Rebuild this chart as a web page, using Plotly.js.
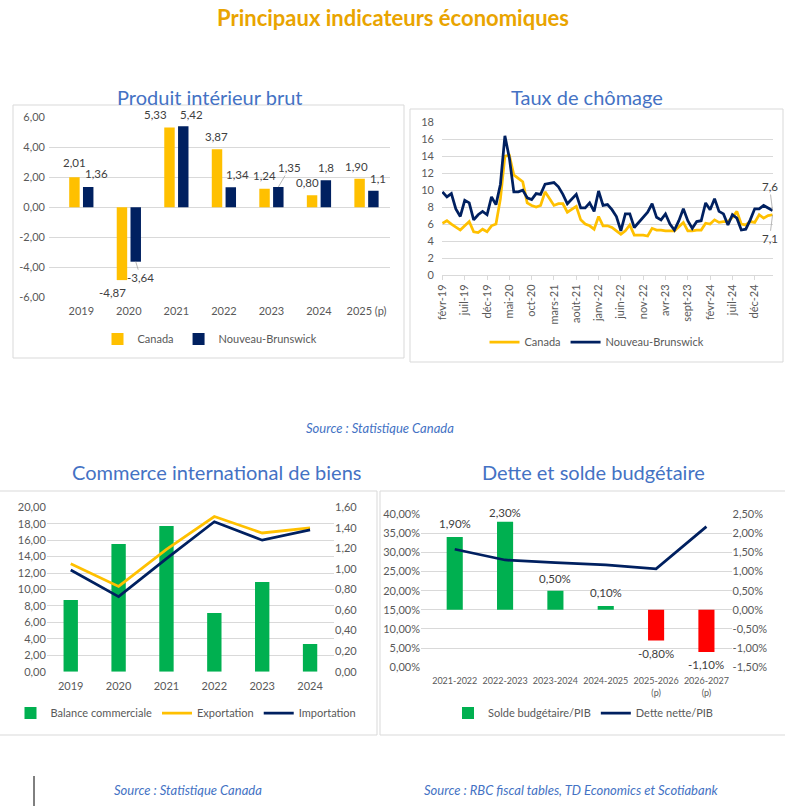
<!DOCTYPE html>
<html>
<head>
<meta charset="utf-8">
<script src="https://cdn.plot.ly/plotly-3.0.1.min.js"></script>
<style>
html,body{margin:0;padding:0;background:#ffffff;}
#chart{width:785px;height:806px;}
</style>
</head>
<body>
<div id="chart"></div>
<script>
// ---------------- DATA ----------------
// Produit intérieur brut
const pibYears = ['2019','2020','2021','2022','2023','2024','2025 (p)'];
const pibCanada = [2.01, -4.87, 5.33, 3.87, 1.24, 0.80, 1.90];
const pibNB = [1.36, -3.64, 5.42, 1.34, 1.35, 1.8, 1.1];
const pibCanadaLabels = ['2,01','-4,87','5,33','3,87','1,24','0,80','1,90'];
const pibNBLabels = ['1,36','-3,64','5,42','1,34','1,35','1,8','1,1'];
const pibTicks = [-6, -4, -2, 0, 2, 4, 6];

// Taux de chômage
const chomMonths = [
 'févr-19','mars-19','avr-19','mai-19','juin-19','juil-19','août-19','sept-19','oct-19','nov-19','déc-19',
 'janv-20','févr-20','mars-20','avr-20','mai-20','juin-20','juil-20','août-20','sept-20','oct-20','nov-20','déc-20',
 'janv-21','févr-21','mars-21','avr-21','mai-21','juin-21','juil-21','août-21','sept-21','oct-21','nov-21','déc-21',
 'janv-22','févr-22','mars-22','avr-22','mai-22','juin-22','juil-22','août-22','sept-22','oct-22','nov-22','déc-22',
 'janv-23','févr-23','mars-23','avr-23','mai-23','juin-23','juil-23','août-23','sept-23','oct-23','nov-23','déc-23',
 'janv-24','févr-24','mars-24','avr-24','mai-24','juin-24','juil-24','août-24','sept-24','oct-24','nov-24','déc-24',
 'janv-25','févr-25','mars-25','avr-25'];
const chomCanada = [6.1,6.4,6.0,5.6,5.3,5.8,6.3,5.1,5.0,5.4,
 5.1,5.8,6.0,9.0,14.0,14.1,11.8,11.4,11.0,8.5,
 8.2,8.0,8.2,9.8,9.0,8.2,8.4,8.4,7.4,7.8,
 8.1,6.5,6.0,5.8,5.4,6.9,5.8,5.8,5.6,5.2,
 4.8,5.2,5.9,4.7,4.7,4.7,4.6,5.5,5.3,5.3,
 5.2,5.2,5.2,5.7,6.2,5.2,5.2,5.3,5.3,6.1,
 6.0,6.5,6.2,6.3,6.3,6.8,7.5,6.0,5.9,6.3,
 6.2,7.1,6.7,7.0,7.1];
const chomNB = [9.8,9.2,9.6,7.8,6.9,8.8,8.5,6.5,7.1,7.5,
 7.1,9.2,8.3,10.7,16.4,13.8,9.8,9.8,10.0,9.1,
 8.9,9.6,9.5,10.7,10.8,10.9,10.4,9.5,8.4,9.0,
 9.5,7.9,7.9,8.5,7.5,9.9,8.2,8.3,7.7,6.9,
 5.2,7.2,7.2,5.6,6.2,6.9,7.4,8.4,6.8,6.5,
 7.2,6.0,5.3,6.4,7.8,6.4,5.5,6.3,6.4,8.5,
 7.7,9.0,7.5,7.2,5.9,7.1,6.7,5.3,5.4,6.5,
 7.8,7.8,8.2,7.9,7.6];
const chomTicks = ['févr-19','juil-19','déc-19','mai-20','oct-20','mars-21','août-21','janv-22',
 'juin-22','nov-22','avr-23','sept-23','févr-24','juil-24','déc-24'];
const chomYTicks = [0,2,4,6,8,10,12,14,16,18];

// Commerce international de biens
const comYears = ['2019','2020','2021','2022','2023','2024'];
const comBalance = [8.72, 15.54, 17.73, 7.14, 10.91, 3.37];
const comExport = [1.05, 0.83, 1.19, 1.51, 1.35, 1.40];
const comImport = [0.99, 0.73, 1.10, 1.46, 1.28, 1.38];
const comLeftTicks = [0,2,4,6,8,10,12,14,16,18,20];
const comRightTicks = [0,0.2,0.4,0.6,0.8,1.0,1.2,1.4,1.6];

// Dette et solde budgétaire
const detteYears = ['2021-2022','2022-2023','2023-2024','2024-2025','2025-2026<br>(p)','2026-2027<br>(p)'];
const detteSolde = [0.019, 0.023, 0.005, 0.001, -0.008, -0.011];
const detteNette = [0.308, 0.280, 0.273, 0.267, 0.257, 0.367];
const detteLeftTicks = [0,0.05,0.10,0.15,0.20,0.25,0.30,0.35,0.40];
const detteRightTicks = [-0.015,-0.010,-0.005,0,0.005,0.010,0.015,0.020,0.025];

// ---------------- STYLE ----------------
const W = 785, H = 806;
const X = (a,b) => [a/W, b/W];
const Y = (t,b) => [1-b/H, 1-t/H];
const fx = a => a/W, fy = b => 1-b/H;
const FONT = 'Lato, "Open Sans", sans-serif';
const GRID = '#D9D9D9', TICK = '#595959', LABEL = '#404040';
const YELLOW = '#FFC000', NAVY = '#002060', GREEN = '#00B050', RED = '#FF0000';
const TBLUE = '#4472C4', GOLD = '#E9A400';
const fr = (v,d) => v.toFixed(d).replace('.', ',');
const pct = v => (v*100).toFixed(2).replace('.', ',') + '%';

// label offsets (px) relative to bar end: [dx from category centre, dy (down +)]
const pibCanadaOff = [[-6.7,-15],[-16,12],[-20.7,-13],[-7.2,-13],[-6.7,-13],[-11,-13],[-9.7,-12]];
const pibNBOff = [[15.3,-13],[11.8,16],[15.3,-12],[13.8,-13],[18.3,-19.5],[6.8,-13],[11.3,-12]];
const pibNBArrow = [false,true,false,false,true,false,false];
const detteOff = [13,9,12,13,-13.5,-13];

// ---------------- TRACES ----------------
const traces = [
  {type:'bar', name:'Canada', x:pibYears, y:pibCanada, xaxis:'x', yaxis:'y',
   marker:{color:YELLOW}, width:0.22, offset:-0.255, legend:'legend'},
  {type:'bar', name:'Nouveau-Brunswick', x:pibYears, y:pibNB, xaxis:'x', yaxis:'y',
   marker:{color:NAVY}, width:0.22, offset:0.035, legend:'legend'},

  {type:'scatter', mode:'lines', name:'Canada', x:chomMonths, y:chomCanada, xaxis:'x2', yaxis:'y2',
   line:{color:YELLOW, width:2.75}, legend:'legend2'},
  {type:'scatter', mode:'lines', name:'Nouveau-Brunswick', x:chomMonths, y:chomNB, xaxis:'x2', yaxis:'y2',
   line:{color:NAVY, width:2.75}, legend:'legend2'},

  {type:'bar', name:'Balance commerciale', x:comYears, y:comBalance, xaxis:'x3', yaxis:'y3',
   marker:{color:GREEN}, width:0.3, legend:'legend3'},
  {type:'scatter', mode:'lines', name:'Exportation', x:comYears, y:comExport, xaxis:'x3', yaxis:'y5',
   line:{color:YELLOW, width:2.75}, legend:'legend3'},
  {type:'scatter', mode:'lines', name:'Importation', x:comYears, y:comImport, xaxis:'x3', yaxis:'y5',
   line:{color:NAVY, width:2.75}, legend:'legend3'},

  {type:'bar', name:'Solde budgétaire/PIB', x:detteYears, y:detteSolde, xaxis:'x4', yaxis:'y4',
   marker:{color:detteSolde.map(v => v >= 0 ? GREEN : RED)}, width:0.32, legend:'legend4'},
  {type:'scatter', mode:'lines', name:'Dette nette/PIB', x:detteYears, y:detteNette, xaxis:'x4', yaxis:'y6',
   line:{color:NAVY, width:2.75}, legend:'legend4'}
];

// ---------------- ANNOTATIONS ----------------
const ann = [];
const txt = (text, x, y, font) => ({
  text, x:fx(x), y:fy(y), xref:'paper', yref:'paper', xanchor:'center', yanchor:'middle',
  showarrow:false, font});
const srcFont = {family:FONT, size:13, color:TBLUE, style:'italic'};
const subFont = {family:FONT, size:20, color:TBLUE};

ann.push(txt('Principaux indicateurs économiques', 393, 17, {family:FONT, size:22, color:GOLD, weight:700}));
ann.push(txt('Produit intérieur brut', 210, 97, subFont));
ann.push(txt('Taux de chômage', 587, 97, subFont));
ann.push(txt('Commerce international de biens', 217, 472, subFont));
ann.push(txt('Dette et solde budgétaire', 593, 472, subFont));
ann.push(txt('Source : Statistique Canada', 380, 428, srcFont));
ann.push(txt('Source : Statistique Canada', 188, 790, srcFont));
ann.push(txt('Source : RBC fiscal tables, TD Economics et Scotiabank', 571, 790, srcFont));

const lblFont = {family:FONT, size:11.5, color:LABEL};
pibYears.forEach((c,i) => {
  // category axes: annotation x given as the category index
  ann.push({x:i, y:pibCanada[i], xref:'x', yref:'y', text:pibCanadaLabels[i], showarrow:false,
    xshift:pibCanadaOff[i][0], yshift:-pibCanadaOff[i][1], font:lblFont});
  if (pibNBArrow[i]) {
    ann.push({x:i, y:pibNB[i], xref:'x', yref:'y', text:pibNBLabels[i], showarrow:true,
      arrowhead:0, arrowwidth:0.8, arrowcolor:'#A6A6A6', standoff:0, startstandoff:0,
      xshift:6.9, ax:pibNBOff[i][0]-6.9, ay:pibNBOff[i][1], font:lblFont});
  } else {
    ann.push({x:i, y:pibNB[i], xref:'x', yref:'y', text:pibNBLabels[i], showarrow:false,
      xshift:pibNBOff[i][0], yshift:-pibNBOff[i][1], font:lblFont});
  }
});

const last = chomMonths.length - 1;
ann.push({x:last, y:chomNB[last], xref:'x2', yref:'y2', text:fr(chomNB[last],1),
  showarrow:true, arrowhead:0, arrowwidth:0.8, arrowcolor:'#A6A6A6', standoff:0, ax:-3, ay:-24, font:lblFont});
ann.push({x:last, y:chomCanada[last], xref:'x2', yref:'y2', text:fr(chomCanada[last],1),
  showarrow:true, arrowhead:0, arrowwidth:0.8, arrowcolor:'#A6A6A6', standoff:0, ax:-3, ay:24, font:lblFont});

detteYears.forEach((c,i) => {
  ann.push({x:i, y:detteSolde[i], xref:'x4', yref:'y4', text:pct(detteSolde[i]), showarrow:false,
    yshift:detteOff[i], font:lblFont});
});

// ---------------- SHAPES ----------------
const box = (x0,y0,x1,y1) => ({type:'rect', xref:'paper', yref:'paper', x0:fx(x0), x1:fx(x1), y0:fy(y1), y1:fy(y0),
  line:{color:GRID, width:1}, fillcolor:'rgba(0,0,0,0)', layer:'below'});
const shapes = [
  box(13,105,404,358),
  box(410,109,783,362),
  box(-1,491,377,735),
  box(380,491,786,735),
  {type:'line', xref:'paper', yref:'paper', x0:fx(34), x1:fx(34), y0:fy(776), y1:fy(806), line:{color:'#000000', width:1}}
];

// ---------------- LAYOUT ----------------
const tf = {family:FONT, size:11, color:TICK};
const base = {fixedrange:true, zeroline:false, showline:false, tickfont:tf};
const legendBase = {orientation:'h', xanchor:'center', yanchor:'middle', font:tf, bgcolor:'rgba(0,0,0,0)',
  borderwidth:0, traceorder:'normal', itemwidth:30};

const layout = {
  width:W, height:H, margin:{l:0,r:0,t:0,b:0}, autosize:false,
  paper_bgcolor:'#ffffff', plot_bgcolor:'rgba(0,0,0,0)',
  font:{family:FONT, color:TICK},
  separators:', ', barmode:'overlay', hovermode:false, showlegend:true,
  xaxis: Object.assign({}, base, {domain:X(49,390.25), anchor:'y', type:'category', range:[-0.68,6.5],
    showgrid:false, ticks:'', ticklabelstandoff:6}),
  yaxis: Object.assign({}, base, {domain:Y(117.5,297), anchor:'x', range:[-6,6], tickmode:'array',
    tickvals:pibTicks, ticktext:pibTicks.map(v=>fr(v,2)), gridcolor:GRID, gridwidth:1, ticklabelstandoff:3}),
  xaxis2: Object.assign({}, base, {domain:X(442,773), anchor:'y2', type:'category', range:[-0.1,74.1],
    tickmode:'array', tickvals:chomTicks, tickangle:-90, ticks:'outside', ticklen:4, tickcolor:GRID,
    showline:true, linecolor:GRID, showgrid:false}),
  yaxis2: Object.assign({}, base, {domain:Y(122.3,275), anchor:'x2', range:[0,18], tickmode:'array',
    tickvals:chomYTicks, ticktext:chomYTicks.map(String), gridcolor:GRID, ticklabelstandoff:7}),
  xaxis3: Object.assign({}, base, {domain:X(46.8,334), anchor:'y3', type:'category', range:[-0.5,5.5],
    showgrid:false, ticks:'', ticklabelstandoff:6}),
  yaxis3: Object.assign({}, base, {domain:Y(507.3,671.7), anchor:'x3', range:[0,20], tickmode:'array',
    tickvals:comLeftTicks, ticktext:comLeftTicks.map(v=>fr(v,2)), gridcolor:GRID}),
  yaxis5: Object.assign({}, base, {overlaying:'y3', side:'right', anchor:'x3', range:[0,1.6], tickmode:'array',
    tickvals:comRightTicks, ticktext:comRightTicks.map(v=>fr(v,2)), showgrid:false}),
  xaxis4: Object.assign({}, base, {domain:X(421,731.6), anchor:'y4', type:'category', range:[-0.67,5.5],
    showgrid:false, ticks:'', ticklabelstandoff:7, tickfont:{family:FONT, size:9, color:TICK}}),
  yaxis4: Object.assign({}, base, {domain:Y(514,667.3), anchor:'x4', side:'right', range:[-0.015,0.025],
    tickmode:'array', tickvals:detteRightTicks, ticktext:detteRightTicks.map(pct), gridcolor:GRID}),
  yaxis6: Object.assign({}, base, {overlaying:'y4', side:'left', anchor:'x4', range:[0,0.4], tickmode:'array',
    tickvals:detteLeftTicks, ticktext:detteLeftTicks.map(pct), showgrid:false}),
  legend: Object.assign({}, legendBase, {x:fx(210), y:fy(339)}),
  legend2: Object.assign({}, legendBase, {x:fx(597), y:fy(342)}),
  legend3: Object.assign({}, legendBase, {x:fx(186), y:fy(713)}),
  legend4: Object.assign({}, legendBase, {x:fx(583), y:fy(713)}),
  annotations: ann,
  shapes: shapes
};

Plotly.newPlot('chart', traces, layout, {staticPlot:true, displayModeBar:false, responsive:false});
</script>
</body>
</html>
